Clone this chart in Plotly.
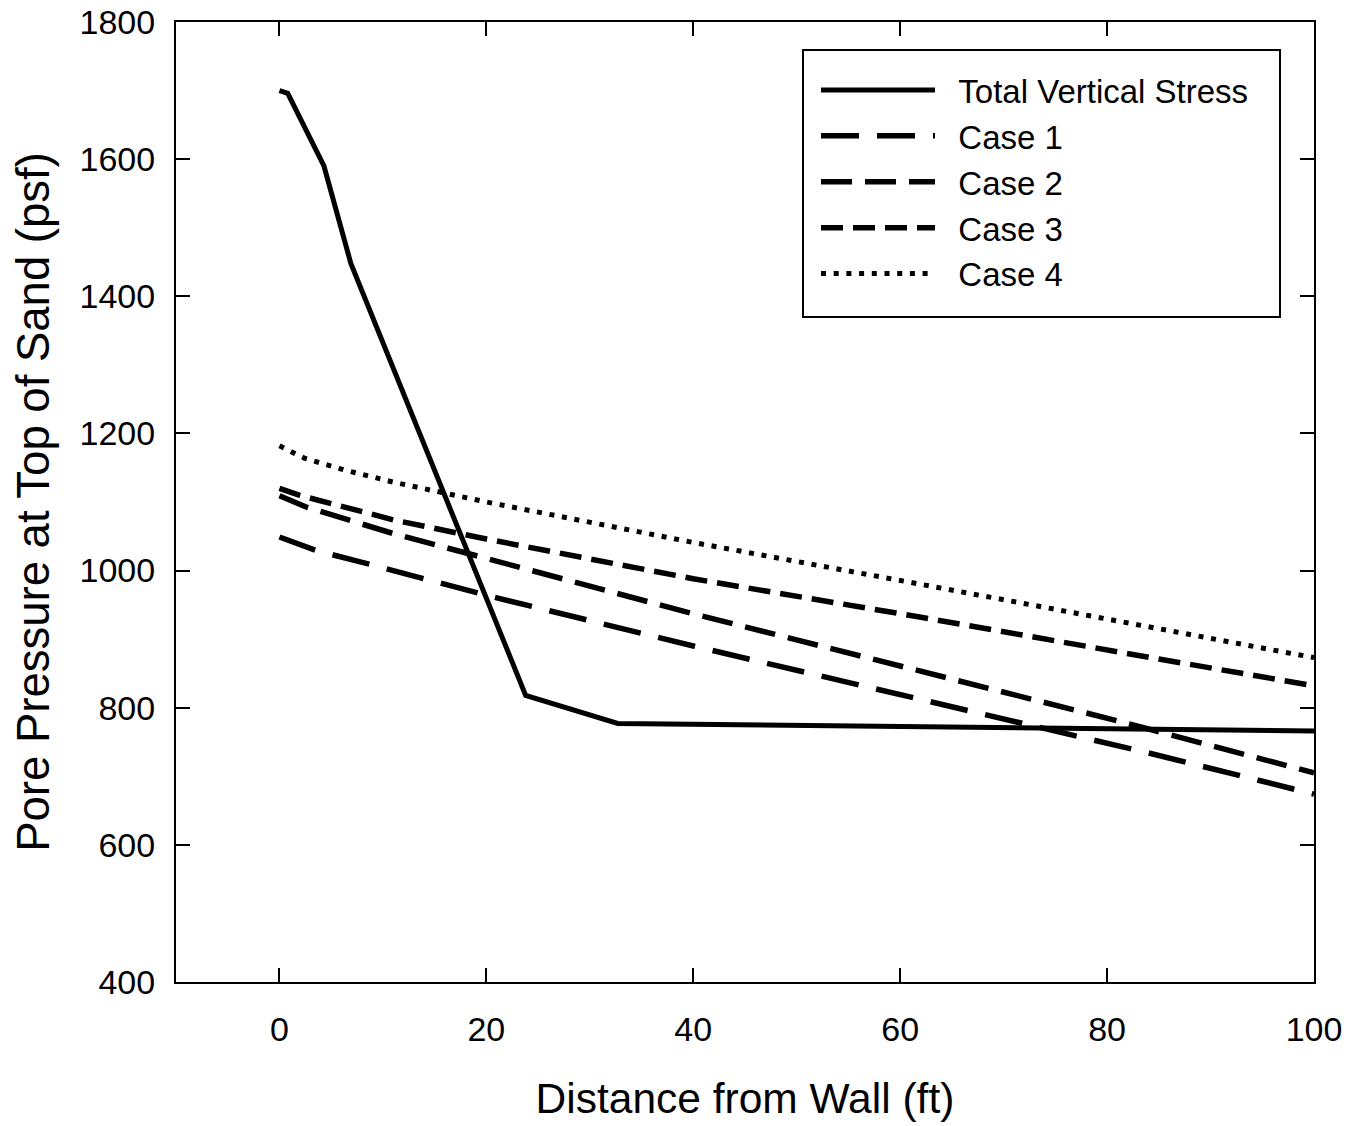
import plotly.graph_objects as go

# ---- data ----
tvs_x = [0, 0.8, 4.3, 6.9, 23.8, 32.7, 100]
tvs_y = [1700, 1696, 1590, 1448, 818, 777, 766]

case1_x = [0, 3.6, 8, 20, 40, 62, 84, 100]
case1_y = [1049, 1029, 1012, 964, 890, 812, 734, 674]

case2_x = [0, 2.7, 11, 20, 40, 61, 82, 100]
case2_y = [1109, 1092, 1054, 1018, 937, 857, 777, 705]

case3_x = [0, 1.9, 11, 20, 40, 62, 85, 100]
case3_y = [1120, 1110, 1074, 1046, 988, 932, 871, 832]

case4_x = [0, 2.4, 6.2, 11, 20, 40, 62, 84, 100]
case4_y = [1182, 1164, 1147, 1129, 1100, 1041, 980, 917, 873]

names = ["Total Vertical Stress", "Case 1", "Case 2", "Case 3", "Case 4"]
xs = [tvs_x, case1_x, case2_x, case3_x, case4_x]
ys = [tvs_y, case1_y, case2_y, case3_y, case4_y]
dashes = ["solid", "38px,18px", "31px,13px", "22px,10px", "5px,7.7px"]
widths = [5, 5.5, 5.5, 5.5, 5]

x_ticks = [0, 20, 40, 60, 80, 100]
y_ticks = [400, 600, 800, 1000, 1200, 1400, 1600, 1800]

FONT = "Liberation Sans, Arial, sans-serif"
NBSP = "\u00a0"

fig = go.Figure()
for n, x, y, d, w in zip(names, xs, ys, dashes, widths):
    fig.add_trace(go.Scatter(x=x, y=y, mode="lines", name=NBSP * 2 + n,
                             line=dict(color="black", width=w, dash=d)))

axis_common = dict(
    showgrid=False, zeroline=False, showline=True, linecolor="black",
    linewidth=2, mirror="ticks", ticks="inside", ticklen=14,
    tickwidth=2, tickcolor="black", automargin=False,
    tickfont=dict(family=FONT, size=34, color="black"),
)

fig.update_xaxes(range=[-10, 100], tickvals=x_ticks, ticklabelstandoff=16,
                 title=dict(text="Distance from Wall (ft)",
                            font=dict(family=FONT, size=42.5, color="black"),
                            standoff=36),
                 **axis_common)
fig.update_yaxes(range=[400, 1800], tickvals=y_ticks, ticklabelstandoff=12,
                 title=dict(text="Pore Pressure at Top of Sand (psf)",
                            font=dict(family=FONT, size=45.5, color="black"),
                            standoff=16),
                 **axis_common)

# legend frame
fig.add_shape(type="rect", xref="paper", yref="paper",
              x0=(803 - 176) / 1138, x1=(1280 - 176) / 1138,
              y0=(982 - 317) / 960, y1=(982 - 50) / 960,
              line=dict(color="black", width=2), fillcolor="rgba(0,0,0,0)",
              layer="above")

fig.update_layout(
    width=1352, height=1126,
    margin=dict(l=176, r=38, t=22, b=144),
    paper_bgcolor="white", plot_bgcolor="white",
    font=dict(family=FONT, color="black"),
    legend=dict(x=(816 - 176) / 1138, y=(982 - 62) / 960,
                xanchor="left", yanchor="top",
                bgcolor="rgba(0,0,0,0)", borderwidth=0,
                font=dict(family=FONT, size=33, color="black"),
                itemwidth=114, tracegroupgap=0),
)

fig.write_html("out.html")
